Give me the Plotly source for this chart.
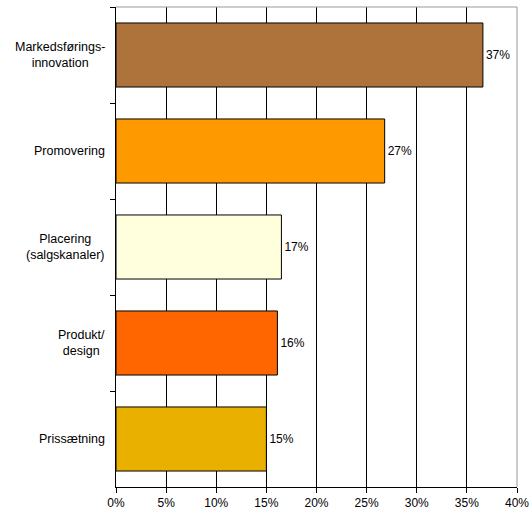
import plotly.graph_objects as go

categories = ["Markedsførings-<br>innovation", "Promovering", "Placering<br>(salgskanaler)", "Produkt/<br>design", "Prissætning"]
values = [36.6, 26.8, 16.5, 16.1, 15.0]
labels = ["37%", "27%", "17%", "16%", "15%"]
colors = ["#AD733A", "#FF9900", "#FFFFDD", "#FF6600", "#EAB000"]
x_ticks = [0, 5, 10, 15, 20, 25, 30, 35, 40]
x_ticklabels = [f"{t}%" for t in x_ticks]

font = "Liberation Sans, Arial, sans-serif"

fig = go.Figure(go.Bar(
    y=categories, x=values, orientation="h",
    marker=dict(color=colors, line=dict(color="#000000", width=1)),
    text=labels, textposition="outside", cliponaxis=False,
    textfont=dict(family=font, size=12, color="#000000"),
    width=0.667,
))

for c in categories:
    fig.add_annotation(x=0, xref="paper", y=c, yref="y", text=c, showarrow=False,
                       xanchor="right", align="center", xshift=-9,
                       font=dict(family=font, size=12.5, color="#000000"))

fig.update_layout(
    width=529, height=512,
    margin=dict(l=116, r=12, t=7, b=25, autoexpand=False),
    paper_bgcolor="white", plot_bgcolor="white",
    showlegend=False,
    font=dict(family=font, size=12, color="#000000"),
    shapes=[
        dict(type="line", xref="paper", yref="paper", x0=0, x1=1, y0=1, y1=1, line=dict(color="#999999", width=1)),
        dict(type="line", xref="paper", yref="paper", x0=1, x1=1, y0=0, y1=1, line=dict(color="#999999", width=1)),
    ],
)
fig.update_xaxes(range=[0, 40], tickvals=x_ticks, ticktext=x_ticklabels,
                 showgrid=True, gridcolor="#000000", gridwidth=1,
                 showline=True, linecolor="#000000", linewidth=1,
                 ticks="outside", ticklen=5, tickcolor="#000000",
                 zeroline=False, tickfont=dict(family=font, size=12),
                 automargin=False, ticklabeloverflow="allow")
fig.update_yaxes(autorange="reversed", showticklabels=False,
                 showline=True, linecolor="#000000", linewidth=1,
                 ticks="outside", ticklen=5, tickcolor="#000000",
                 tickson="boundaries", showgrid=False, automargin=False)

fig.write_html("out.html", config={"displayModeBar": False},
               post_script="document.body.style.margin='0';document.body.style.overflow='hidden';")
